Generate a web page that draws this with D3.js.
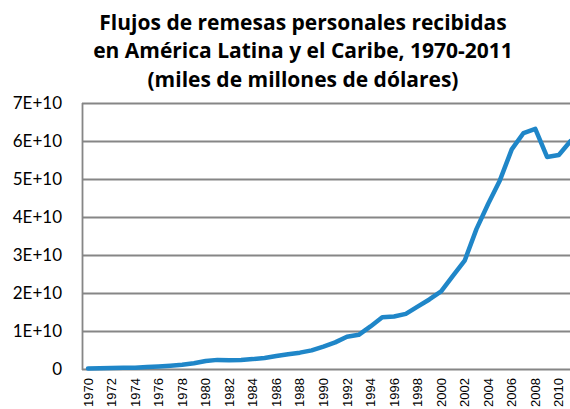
<!DOCTYPE html>
<html>
<head>
<meta charset="utf-8">
<script src="https://cdn.jsdelivr.net/npm/d3@7"></script>
<style>
  body { margin: 0; background: #fff; }
  svg { display: block; }
</style>
</head>
<body>
<div id="chart"></div>
<script>
// Remesas personales recibidas, America Latina y el Caribe
const years = d3.range(1970, 2012);
// miles de millones de dolares
const remesas = [
  0.15, 0.2, 0.25, 0.3, 0.35, 0.5, 0.65, 0.85, 1.1, 1.5,
  2.1, 2.4, 2.3, 2.4, 2.6, 2.9, 3.4, 3.9, 4.3, 4.9,
  5.9, 7.0, 8.5, 9.0, 11.2, 13.6, 13.8, 14.5, 16.4, 18.3,
  20.4, 24.5, 28.5, 36.8, 43.5, 49.7, 57.8, 62.1, 63.2, 55.8,
  56.3, 60.0
];
const yTicks = [0, 1e10, 2e10, 3e10, 4e10, 5e10, 6e10, 7e10];
const titleLines = [
  'Flujos de remesas personales recibidas',
  'en América Latina y el Caribe, 1970-2011',
  '(miles de millones de dólares)'
];

const width = 570, height = 409;
const plot = { left: 82, right: 570, top: 103, bottom: 369 };

const svg = d3.select('#chart').append('svg')
  .attr('width', width)
  .attr('height', height);

const x = d3.scalePoint()
  .domain(years)
  .range([88, 570.6]);

const y = d3.scaleLinear()
  .domain([0, 7e10])
  .range([plot.bottom, plot.top]);

// Title
svg.append('g')
  .selectAll('text')
  .data(titleLines)
  .join('text')
  .attr('x', 303)
  .attr('y', (d, i) => 30 + i * 28.3)
  .attr('text-anchor', 'middle')
  .attr('font-family', '"Open Sans", Lato, sans-serif')
  .attr('font-weight', 'bold')
  .attr('font-size', 21)
  .attr('fill', '#000')
  .text(d => d);

// Gridlines
svg.append('g')
  .selectAll('line')
  .data(yTicks.slice(1))
  .join('line')
  .attr('x1', plot.left)
  .attr('x2', plot.right)
  .attr('y1', d => Math.round(y(d)) + 0.5)
  .attr('y2', d => Math.round(y(d)) + 0.5)
  .attr('stroke', '#868686')
  .attr('stroke-width', 1.8);

// Y axis labels
const fmt = d => d === 0 ? '0' : (d / 1e10) + 'E+10';
svg.append('g')
  .selectAll('text')
  .data(yTicks)
  .join('text')
  .attr('x', 62)
  .attr('y', d => y(d))
  .attr('dy', '0.35em')
  .attr('text-anchor', 'end')
  .attr('font-family', 'Lato, sans-serif')
  .attr('font-size', 17)
  .attr('fill', '#000')
  .text(fmt);

// Axis lines
svg.append('line')
  .attr('x1', plot.left + 0.5).attr('x2', plot.left + 0.5)
  .attr('y1', plot.top).attr('y2', plot.bottom + 1)
  .attr('stroke', '#868686').attr('stroke-width', 1.8);
svg.append('line')
  .attr('x1', plot.left).attr('x2', plot.right)
  .attr('y1', plot.bottom + 0.5).attr('y2', plot.bottom + 0.5)
  .attr('stroke', '#868686').attr('stroke-width', 1.8);

// X labels (every 2 years)
svg.append('g')
  .selectAll('text')
  .data(years.filter(yr => yr % 2 === 0))
  .join('text')
  .attr('transform', d => `translate(${x(d)},378) rotate(-90)`)
  .attr('dy', '0.35em')
  .attr('text-anchor', 'end')
  .attr('font-family', '"Liberation Sans", Arial, sans-serif')
  .attr('font-size', 13)
  .attr('fill', '#000')
  .text(d => d);

// Line
const line = d3.line()
  .x((d, i) => x(years[i]))
  .y(d => y(d * 1e9));

svg.append('path')
  .datum(remesas)
  .attr('d', line)
  .attr('fill', 'none')
  .attr('stroke', '#1f86c8')
  .attr('stroke-width', 4.5)
  .attr('stroke-linejoin', 'round')
  .attr('stroke-linecap', 'round');
</script>
</body>
</html>
